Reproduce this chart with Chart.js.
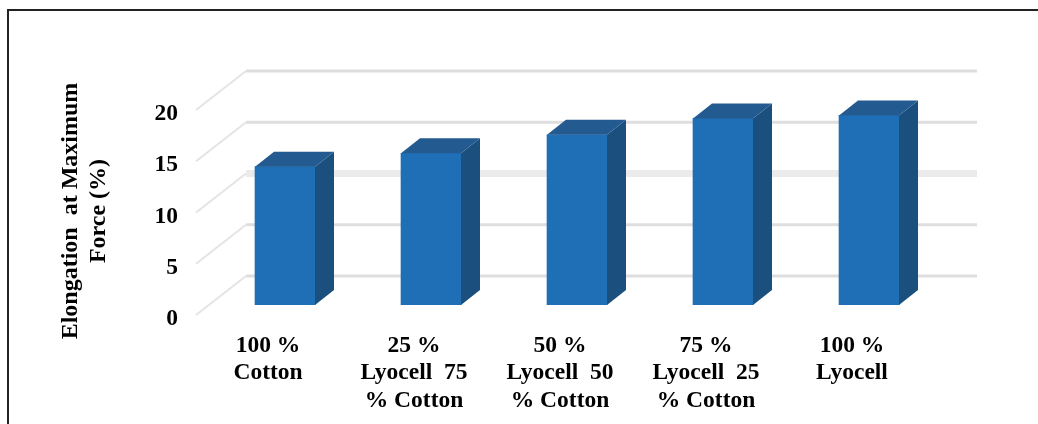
<!DOCTYPE html>
<html>
<head>
<meta charset="utf-8">
<style>
  html, body { margin: 0; padding: 0; background: #fff; overflow: hidden; }
  #frame { position: absolute; left: 7px; top: 9px; width: 1040px; height: 430px; border: 2px solid #222; }
  canvas { position: absolute; left: 0; top: 0; }
</style>
<script src="https://cdn.jsdelivr.net/npm/chart.js@4"></script>
</head>
<body>
<div id="frame"></div>
<canvas id="chartElongation" width="1038" height="424"></canvas>
<script>
// Elongation at maximum force per blend
const categories = [
    ["100 %", "Cotton"],
    ["25 %", "Lyocell  75", "% Cotton"],
    ["50 %", "Lyocell  50", "% Cotton"],
    ["75 %", "Lyocell  25", "% Cotton"],
    ["100 %", "Lyocell"],
];
const elongation = [13.5, 14.8, 16.6, 18.2, 18.5];
const yTicks = [0, 5, 10, 15, 20];
const axisTitle = ["Elongation  at Maximum", "Force (%)"];

const serif = "'Liberation Serif', 'Times New Roman', serif";

// fake 3D: back wall gridlines and the side / top of each bar
const depthX = 19;
const depthY = 15;

const wall3d = {
    id: "wall3d",
    beforeDatasetsDraw: (chart) => {
        const ctx = chart.ctx;
        const y = chart.scales.y;
        ctx.save();
        yTicks.forEach((value) => {
            const py = y.getPixelForValue(value);
            const isTen = value === 10;
            // slanted side wall
            ctx.strokeStyle = "#e4e4e4";
            ctx.lineWidth = 2;
            ctx.beginPath();
            ctx.moveTo(196, py + 10);
            ctx.lineTo(246, py - 29);
            ctx.stroke();
            // back wall
            ctx.strokeStyle = isTen ? "#ebebeb" : "#dedede";
            ctx.lineWidth = isTen ? 7 : 3;
            ctx.beginPath();
            ctx.moveTo(246, py - 29);
            ctx.lineTo(977, py - 29);
            ctx.stroke();
        });
        ctx.restore();
    },
    afterDatasetsDraw: (chart) => {
        const ctx = chart.ctx;
        ctx.save();
        chart.getDatasetMeta(0).data.forEach((bar) => {
            const left = bar.x - bar.width / 2;
            const right = bar.x + bar.width / 2;
            // side
            ctx.fillStyle = "#1b4f7d";
            ctx.beginPath();
            ctx.moveTo(right, bar.y);
            ctx.lineTo(right + depthX, bar.y - depthY);
            ctx.lineTo(right + depthX, bar.base - depthY);
            ctx.lineTo(right, bar.base);
            ctx.closePath();
            ctx.fill();
            // top
            ctx.fillStyle = "#235a8f";
            ctx.beginPath();
            ctx.moveTo(left, bar.y);
            ctx.lineTo(left + depthX, bar.y - depthY);
            ctx.lineTo(right + depthX, bar.y - depthY);
            ctx.lineTo(right, bar.y);
            ctx.closePath();
            ctx.fill();
        });
        ctx.restore();
    },
    afterDraw: (chart) => {
        const ctx = chart.ctx;
        const lineGap = 28;
        ctx.save();
        ctx.translate(85, 211);
        ctx.rotate(-Math.PI / 2);
        ctx.font = "bold 24px " + serif;
        ctx.fillStyle = "#000";
        ctx.textAlign = "center";
        ctx.textBaseline = "middle";
        axisTitle.forEach((line, i) => {
            ctx.fillText(line, 0, (i - 0.5) * lineGap);
        });
        ctx.restore();
    },
};

const config = {
    type: "bar",
    data: {
        labels: categories,
        datasets: [
            {
                label: "Elongation at Maximum Force (%)",
                data: elongation,
                backgroundColor: "#1f6fb7",
                barThickness: 60,
            },
        ],
    },
    options: {
        responsive: false,
        animation: false,
        layout: { padding: { left: 100, right: 96, top: 100, bottom: 0 } },
        plugins: {
            legend: { display: false },
            tooltip: { enabled: false },
        },
        scales: {
            x: {
                afterFit: (scale) => { scale.height = 119; },
                grid: { display: false },
                border: { display: false },
                ticks: {
                    color: "#000",
                    font: { family: serif, size: 23.5, weight: "bold", lineHeight: 1.17 },
                    maxRotation: 0,
                    autoSkip: false,
                    padding: 19,
                    labelOffset: -17,
                },
            },
            y: {
                min: 0,
                max: 20,
                afterFit: (scale) => { scale.width = 112; },
                grid: { display: false },
                border: { display: false },
                ticks: {
                    stepSize: 5,
                    color: "#000",
                    font: { family: serif, size: 23.5, weight: "bold" },
                    padding: 26,
                    labelOffset: 14,
                },
            },
        },
    },
};

new Chart(document.getElementById("chartElongation"), { ...config, plugins: [wall3d] });
</script>
</body>
</html>
